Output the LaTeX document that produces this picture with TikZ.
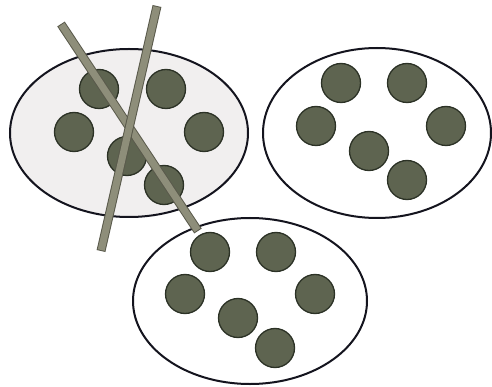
\documentclass[tikz,border=0pt]{standalone}
\usetikzlibrary{shapes.geometric}
\definecolor{dotfill}{HTML}{5E6450}
\definecolor{dotedge}{HTML}{2C3226}
\definecolor{setfill}{HTML}{F1EFEF}
\definecolor{setedge}{HTML}{14141E}
\definecolor{barfill}{HTML}{8E8E7A}
\definecolor{baredge}{HTML}{5A5A4C}
\tikzset{
  setshape/.style={ellipse, draw=setedge, line width=2pt, inner sep=0pt},
  dot/.style={circle, fill=dotfill, draw=dotedge, line width=1.3pt, minimum size=39pt, inner sep=0pt},
  baredgestyle/.style={baredge, line width=9pt},
  barstyle/.style={barfill, line width=7pt},
}
\begin{document}
\begin{tikzpicture}[x=1pt,y=-1pt]
\useasboundingbox (0,0) rectangle (492,387);
% sets
\node[setshape, fill=setfill, minimum width=238pt, minimum height=168pt] (A) at (129,133) {};
\node[setshape, fill=white, minimum width=228pt, minimum height=170pt] (B) at (377,133) {};
\node[setshape, fill=white, minimum width=234pt, minimum height=166pt] (C) at (250,301) {};
% dots in A
\node[dot] (a1) at (99,89) {};
\node[dot] (a2) at (166,89) {};
\node[dot] (a3) at (74,132) {};
\node[dot] (a4) at (204,132) {};
\node[dot] (a5) at (127,156) {};
\node[dot] (a6) at (164,185) {};
% dots in B
\node[dot] (b1) at (341,83) {};
\node[dot] (b2) at (407,83) {};
\node[dot] (b3) at (316,126) {};
\node[dot] (b4) at (446,126) {};
\node[dot] (b5) at (369,151) {};
\node[dot] (b6) at (407,180) {};
% dots in C
\node[dot] (c1) at (210,252) {};
\node[dot] (c2) at (276,252) {};
\node[dot] (c3) at (185,294) {};
\node[dot] (c4) at (315,294) {};
\node[dot] (c5) at (238,318) {};
\node[dot] (c6) at (275,348) {};
% bars
\coordinate (p1) at (61,24);
\coordinate (p2) at (198,231);
\coordinate (q1) at (157,6);
\coordinate (q2) at (101,251);
\draw[baredgestyle] (p1) -- (p2);
\draw[barstyle, shorten <=1pt, shorten >=1pt] (p1) -- (p2);
\draw[baredgestyle] (q1) -- (q2);
\draw[barstyle, shorten <=1pt, shorten >=1pt] (q1) -- (q2);
\end{tikzpicture}
\end{document}
